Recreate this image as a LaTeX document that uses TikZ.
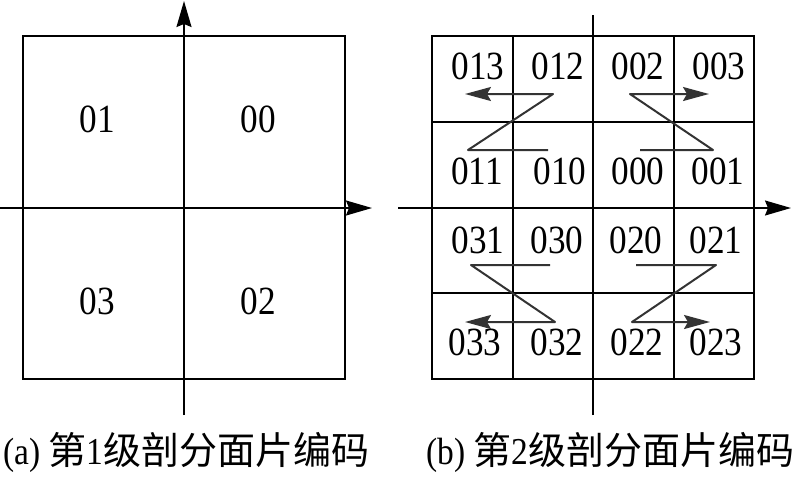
\documentclass[tikz,border=0pt]{standalone}
\usepackage{fontspec}
\setmainfont{Liberation Serif}[FakeStretch=0.88]
\newfontfamily\cjk{Noto Sans CJK SC}
\newcommand{\cjktext}[1]{{\cjk\fontsize{38}{40}\selectfont #1}}
\usetikzlibrary{arrows.meta}
\definecolor{zgray}{gray}{0.2}
\begin{document}
\begin{tikzpicture}[x=1pt,y=-1pt,
  grid/.style={line width=1.6pt, draw=black},
  axis/.style={line width=1.6pt, draw=black, -{Stealth[length=26pt,width=15pt,inset=3pt]}},
  plainaxis/.style={line width=1.6pt, draw=black},
  zpath/.style={line width=2pt, draw=zgray, line join=round, -{Stealth[length=26pt,width=14pt,inset=4pt]}},
  code/.style={inner sep=0pt, font=\fontsize{40}{44}\selectfont},
  captext/.style={inner sep=0pt, anchor=west, font=\fontsize{38}{40}\selectfont}]
\path[use as bounding box] (0,0) rectangle (800,480);

% ---------- (a) level 1 ----------
\draw[grid] (23,36) rectangle (345,379);
\coordinate (aL) at (0,208);
\coordinate (aR) at (372,208);
\coordinate (aB) at (184,415);
\coordinate (aT) at (184,1);
\draw[axis] (aL) -- (aR);
\draw[axis] (aB) -- (aT);
\node[code] (c01) at (97,119) {01};
\node[code] (c00) at (258,119) {00};
\node[code] (c03) at (97,301) {03};
\node[code] (c02) at (258,301) {02};

% ---------- (b) level 2 ----------
\draw[grid] (432,36) rectangle (754,379);
\draw[grid] (513,36) -- (513,379);
\draw[grid] (674,36) -- (674,379);
\draw[grid] (432,122) -- (754,122);
\draw[grid] (432,293) -- (754,293);
\coordinate (bL) at (398,208);
\coordinate (bR) at (791,208);
\coordinate (bB) at (593,415);
\coordinate (bT) at (593,15);
\draw[axis] (bL) -- (bR);
\draw[plainaxis] (bB) -- (bT);

\node[code] (c013) at (478,66) {013};
\node[code] (c012) at (558,66) {012};
\node[code] (c002) at (638,66) {002};
\node[code] (c003) at (719,66) {003};
\node[code] (c011) at (477,171) {011};
\node[code] (c010) at (560,171) {010};
\node[code] (c000) at (638,171) {000};
\node[code] (c001) at (718,171) {001};
\node[code] (c031) at (478,240) {031};
\node[code] (c030) at (557,240) {030};
\node[code] (c020) at (636,240) {020};
\node[code] (c021) at (716,240) {021};
\node[code] (c033) at (475,342) {033};
\node[code] (c032) at (557,342) {032};
\node[code] (c022) at (637,342) {022};
\node[code] (c023) at (716,342) {023};

% Z-order curves
\coordinate (p1a) at (548,150); \coordinate (p1b) at (468,150);
\coordinate (p1c) at (553,94);  \coordinate (p1d) at (465,94);
\draw[zpath] (p1a) -- (p1b) -- (p1c) -- (p1d);

\coordinate (p2a) at (640,150); \coordinate (p2b) at (713,150);
\coordinate (p2c) at (630,94);  \coordinate (p2d) at (709,94);
\draw[zpath] (p2a) -- (p2b) -- (p2c) -- (p2d);

\coordinate (p3a) at (550,265); \coordinate (p3b) at (471,265);
\coordinate (p3c) at (555,322); \coordinate (p3d) at (465,322);
\draw[zpath] (p3a) -- (p3b) -- (p3c) -- (p3d);

\coordinate (p4a) at (636,265); \coordinate (p4b) at (716,265);
\coordinate (p4c) at (632,322); \coordinate (p4d) at (710,322);
\draw[zpath] (p4a) -- (p4b) -- (p4c) -- (p4d);

% captions
\node[captext] (capa) at (3,452) {(a) \cjktext{第}1\cjktext{级剖分面片编码}};
\node[captext] (capb) at (426,452) {(b) \cjktext{第}2\cjktext{级剖分面片编码}};
\end{tikzpicture}
\end{document}
